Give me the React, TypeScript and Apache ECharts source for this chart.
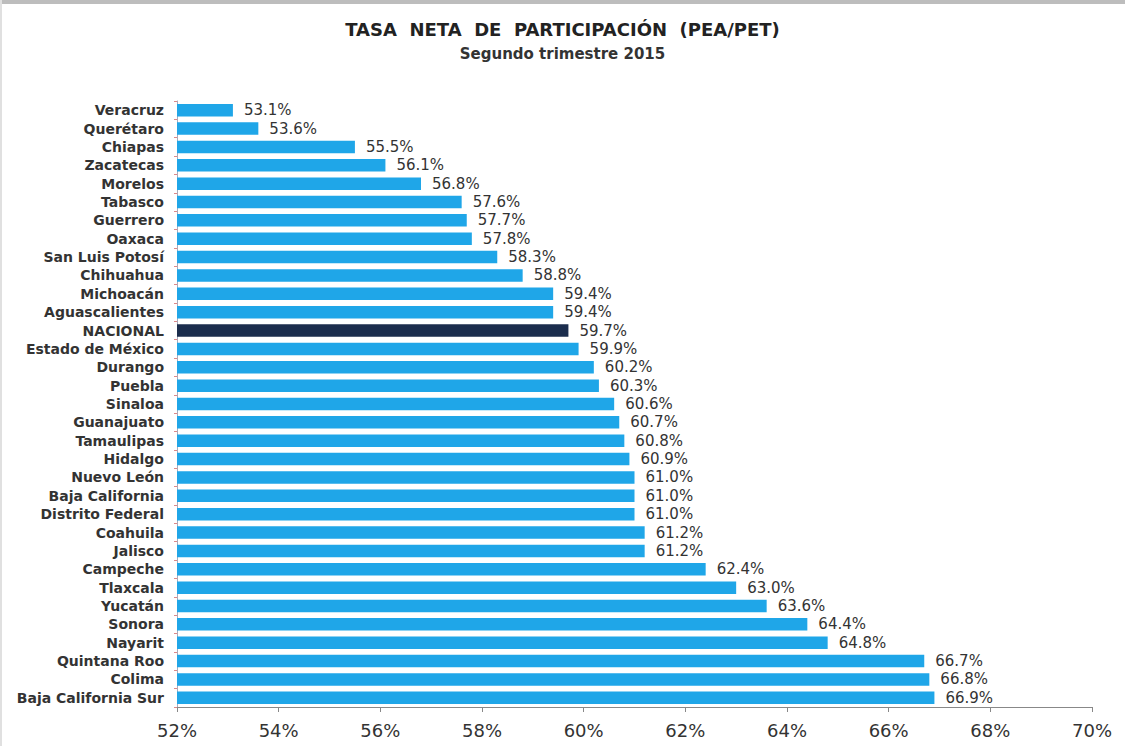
import React, { useEffect, useRef } from "react";
import * as echarts from "echarts";

const categories = [
  "Veracruz", "Querétaro", "Chiapas", "Zacatecas", "Morelos", "Tabasco", "Guerrero", "Oaxaca",
  "San Luis Potosí", "Chihuahua", "Michoacán", "Aguascalientes", "NACIONAL", "Estado de México",
  "Durango", "Puebla", "Sinaloa", "Guanajuato", "Tamaulipas", "Hidalgo", "Nuevo León",
  "Baja California", "Distrito Federal", "Coahuila", "Jalisco", "Campeche", "Tlaxcala",
  "Yucatán", "Sonora", "Nayarit", "Quintana Roo", "Colima", "Baja California Sur",
];
const values = [
  53.1, 53.6, 55.5, 56.1, 56.8, 57.6, 57.7, 57.8, 58.3, 58.8, 59.4, 59.4, 59.7, 59.9,
  60.2, 60.3, 60.6, 60.7, 60.8, 60.9, 61.0, 61.0, 61.0, 61.2, 61.2, 62.4, 63.0, 63.6,
  64.4, 64.8, 66.7, 66.8, 66.9,
];
const highlight = "NACIONAL";
const title = "TASA  NETA  DE  PARTICIPACIÓN  (PEA/PET)";
const subtitle = "Segundo trimestre 2015";

const FONT = "DejaVu Sans, Verdana, sans-serif";

export default function App() {
  const ref = useRef<HTMLDivElement>(null);
  useEffect(() => {
    document.body.style.margin = "0";
    const chart = echarts.init(ref.current!, null, { renderer: "svg" });
    chart.setOption({
      animation: false,
      backgroundColor: "#ffffff",
      textStyle: { fontFamily: FONT },
      title: [
        {
          text: title,
          left: "center",
          top: 15,
          textStyle: { fontSize: 18, fontWeight: "bold", color: "#222", fontFamily: FONT },
        },
        {
          text: subtitle,
          left: "center",
          top: 41,
          textStyle: { fontSize: 15, fontWeight: "bold", color: "#333", fontFamily: FONT },
        },
      ],
      graphic: [
        { type: "rect", shape: { x: 0, y: 0, width: 1125, height: 4 }, style: { fill: "#bdbdbd" } },
        { type: "rect", shape: { x: 0, y: 0, width: 2, height: 746 }, style: { fill: "#e0e0e0" } },
      ],
      grid: { left: 177, right: 33, top: 101, bottom: 39 },
      xAxis: {
        type: "value",
        min: 52,
        max: 70,
        interval: 2,
        splitLine: { show: false },
        axisLine: { show: true, lineStyle: { color: "#888" } },
        axisTick: { show: true, length: 5, lineStyle: { color: "#888" } },
        axisLabel: { formatter: "{value}%", fontSize: 18, color: "#333", margin: 14, fontFamily: FONT },
      },
      yAxis: {
        type: "category",
        data: categories,
        inverse: true,
        axisLine: { show: true, lineStyle: { color: "#aab" } },
        axisTick: { show: true, length: 3, lineStyle: { color: "#d88" } },
        axisLabel: { fontSize: 14, fontWeight: "bold", color: "#333", margin: 13, fontFamily: FONT },
      },
      series: [
        {
          type: "bar",
          barCategoryGap: "32%",
          data: values.map((v, i) => ({
            value: v,
            itemStyle: { color: categories[i] === highlight ? "#1b2d4d" : "#1fa6e8" },
          })),
          label: {
            show: true,
            position: "right",
            distance: 11,
            formatter: (p: any) => p.value.toFixed(1) + "%",
            fontSize: 15,
            color: "#333",
            fontFamily: FONT,
          },
        },
      ],
    });
    return () => chart.dispose();
  }, []);
  return <div ref={ref} style={{ width: 1125, height: 746 }} />;
}
